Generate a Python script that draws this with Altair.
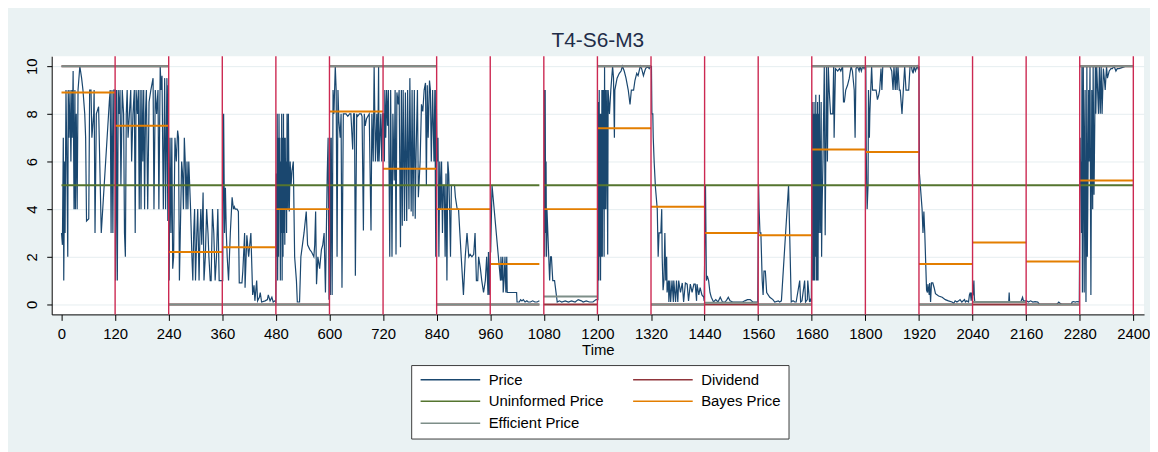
import altair as alt
import pandas as pd

FONT = "Liberation Sans"
TITLE = "T4-S6-M3"
SERIES = ["Price", "Dividend", "Uninformed Price", "Bayes Price", "Efficient Price"]
COLORS = ["#1a476f", "#90353b", "#55752f", "#e37e00", "#7d8e88"]

PERIOD_START = [0, 120, 240, 360, 480, 600, 720, 840, 960, 1080,
                1200, 1320, 1440, 1560, 1680, 1800, 1920, 2040, 2160, 2280]
PERIOD_END = [120, 240, 360, 480, 600, 720, 840, 960, 1070, 1200,
              1320, 1440, 1560, 1680, 1800, 1920, 2040, 2160, 2280, 2400]
DIVIDEND = [10, 10, 0, 0, 0, 10, 10, 0, 0, 0, 10, 0, 0, 0, 10, 10, 0, 0, 0, 10]
UNINFORMED = [5, 5, 5, 5, 5, 5, 5, 5, 5, 5, 5, 5, 5, 5, 5, 5, 5, 5, 5, 5]
BAYES = [8.9, 7.5, 2.2, 2.4, 4.0, 8.1, 5.7, 4.0, 1.7, 4.0,
         7.4, 4.1, 3.0, 2.9, 6.5, 6.4, 1.7, 2.6, 1.8, 5.2]
EFFICIENT = [10, 10, 0, 0, 0, 10, 10, 0, 0, 0.33, 10, 0, 0.07, 0, 10, 10, 0, 0.1, 0, 10]

XLINES = [120, 240, 360, 480, 600, 720, 840, 960, 1080, 1200, 1320, 1440,
          1560, 1680, 1800, 1920, 2040, 2160, 2280, 2400]
X_TICKS = [0, 120, 240, 360, 480, 600, 720, 840, 960, 1080, 1200, 1320, 1440,
           1560, 1680, 1800, 1920, 2040, 2160, 2280, 2400]
Y_TICKS = [0, 2, 4, 6, 8, 10]

# Price, period by period: (time, price)
P01 = [(0,3),(2,2.5),(4,7),(5,1),(7,6),(8,3),(10,9),(12,6),(14,2),(15,9),(17,7),(19,9),(21,6),(23,9),(24,7),
       (26,9.8),(28,4),(30,9),(31,4),(33,8),(35,4),(37,9),(41,10),(45,9.5),(48,9),(52,8),(54,7),(56,3.5),(61,3.6),
       (63,9),(66,9),(68,7),(72,8),(73,9),(75,3),(78,8),(83,8.3),(89,3),(107,8.5),(109,9),(111,3),(113,9),(115,3),
       (117,9),(119,9)]
P02 = [(120,9),(121,1),(123,9),(125,1),(127,9),(129,8),(131,9),(133,5),(136,9),(139,8),(141,3),(143,2),(145,8),
       (147,9),(149,7),(152,8),(155,9),(157,6),(160,8),(163,9),(165,3),(167,9),(170,8),(172,9),(174,4),(176,9),
       (178,4),(180,9),(182,6),(184,9),(186,4),(188,8),(190,9),(193,4),(196,8.5),(200,9),(205,9.5),(207,4),(210,9),
       (213,8),(216,9),(218,4),(221,10),(223,9),(225,9.6),(228,4),(231,9.5),(233,4),(236,9.5),(238,3.5),(239,9.2)]
P03 = [(241,1),(243,7),(245,3),(247,7),(249,1.5),(251,2),(254,7),(257,6),(260,7.3),(262,7),(264,1),(267,4),
       (269,6),(271,5.5),(273,4),(275,7),(277,6),(279,4),(281,6),(283,4),(285,6),(287,5),(289,4),(292,2),(294,1),
       (296,3),(298,4),(300,1),(303,3),(305,4),(308,1),(310,3),(312,4),(314,2.5),(317,4.7),(319,1),(322,2),(325,4),
       (328,3),(330,2),(333,1),(335,1),(338,4),(341,3),(344,1),(347,2),(350,4),(353,1),(356,1),(359,1)]
P04 = [(361,1),(362,5.5),(363,8),(365,3),(367,4.9),(369,3),(371,2),(374,1),(378,3),(382,4.5),(385,4),(387,4.1),
       (389,4),(393,4),(396,3.9),(398,0.9),(404,0.9),(406,1.4),(410,3),(411,0.7),(415,2.9),(419,2),(421,2.4),
       (424,3),(428,0.4),(431,0.8),(433,0.15),(437,1),(439,0.15),(443,0.3),(445,0.5),(448,0.1),(456,0.15),
       (461,0.2),(463,0.4),(467,0.15),(471,0.3),(474,0.1),(478,0.15),(480,0.1)]
P05 = [(481,5.5),(482,2),(483,8),(484,1),(485,7),(486,2),(487,8),(488,4),(489,7),(490,1),(491,6),(492,3),
       (493,8),(494,1),(495,7),(496,2),(497,8),(498,3),(499,7),(500,2.5),(501,7),(502,4),(503,6),(504,3),(505,8),
       (507,4),(508,8),(510,3.9),(512,6),(514,5),(516,5.6),(519,6),(522,2),(526,1),(528,0.1),(533,0.1),(536,2),
       (543,3),(548,3.9),(551,2.5),(556,2.3),(560,2.2),(565,2.0),(567,2.5),(569,3.9),(571,0.85),(574,2),(578,1.5),
       (582,2.3),(585,2.5),(588,3),(591,0.5),(595,5.5),(597,7),(599,0.2)]
P06 = [(601,7),(602,0.4),(604,7),(606,0.4),(608,9),(610,8),(613,10),(615,9),(617,2),(619,9),(621,7.7),(624,7),
       (626,8),(628,0.7),(631,8),(634,8),(637,8),(641,7.9),(645,8),(648,8),(652,6.5),(654,8),(656,8),(658,1.2),
       (661,8),(663,7.9),(667,8),(671,8),(673,7.9),(676,3.1),(678,8),(680,7.5),(683,7.8),(686,7.9),(689,8),
       (693,3.1),(695,8),(698,6),(700,10),(703,6),(706,8),(708,6),(710,10),(711,6),(715,8),(717,6),(719,8)]
P07 = [(721,8),(723,6),(724,9),(726,7),(728,9),(730,7.5),(732,9),(735,2),(737,9),(740,2),(742,8),(745,5.2),
       (747,9),(749,2.1),(751,8.9),(754,8.4),(756,9),(759,2.4),(761,9),(763,3.3),(765,9),(768,3.5),(770,8.9),
       (773,3.5),(775,9),(778,4),(780,9.5),(783,3.9),(785,9),(787,3.7),(790,9),(792,3.6),(794,6.4),(797,9),
       (799,4.5),(803,6),(806,8.4),(809,8.1),(812,9),(815,9.3),(817,5),(819,9.2),(821,7),(824,9.4),(826,9),
       (828,6),(831,9),(834,6),(836,9),(838,2),(839,9)]
P08 = [(841,6),(843,7),(845,2),(847,6),(849,4),(851,6),(853,3),(855,5),(857,5),(859,2),(861,5.5),(863,1),
       (865,6),(867,5.5),(869,4),(871,2),(873,5),(875,5),(877,5),(880,5),(882,4.5),(886,4),(889,4),(892,3),
       (895,2),(900,0.4),(904,2),(908,3),(912,2),(915,2.1),(919,2),(923,2.1),(926,3),(929,1),(932,1),(934,2),
       (938,1.5),(941,1),(945,0.5),(949,1),(952,2),(955,0.4),(956,2.2),(958,0.4),(960,2.2)]
P09 = [(961,2.2),(964,5),(983,1),(984,2),(986,1),(988,2),(989,0.5),(991,1),(993,2),(995,0.5),(997,2),(998,0.5),
       (1019,0.5),(1020,0.1),(1025,0.1),(1028,0.2),(1031,0.15),(1034,0.2),(1038,0.1),(1042,0.15),(1045,0.1),
       (1050,0.1),(1055,0.15),(1060,0.1),(1065,0.1),(1070,0.15)]
P10 = [(1081,9),(1082,2),(1083,9),(1084,3),(1085,6),(1086,2),(1087,4),(1089,3),(1091,2),(1093,1),(1095,2),
       (1097,2),(1100,1),(1104,1),(1110,0.1),(1115,0.15),(1120,0.1),(1128,0.15),(1135,0.1),(1142,0.15),(1150,0.1),
       (1157,0.2),(1164,0.15),(1168,0.1),(1175,0.15),(1182,0.1),(1190,0.1),(1197,0.2)]
P11 = [(1201,0.2),(1202,8.5),(1203,1),(1204,9),(1205,2),(1206,8),(1207,1),(1208,8),(1209,2),(1210,9),(1211,2),
       (1212,9),(1213,4),(1214,9),(1215,2),(1216,10),(1217,4),(1218,9),(1219,4),(1221,9),(1223,2.1),(1224,9),
       (1227,8),(1230,9),(1234,10),(1236,9.5),(1238,7),(1239,9),(1244,9.5),(1249,9.7),(1253,9.8),(1256,10),
       (1260,9.8),(1264,9.5),(1269,9),(1273,8.4),(1276,9),(1281,9),(1284,9.4),(1288,9.7),(1291,9.6),(1296,10),
       (1299,9.9),(1303,9.6),(1306,9.8),(1308,9.9),(1312,10),(1316,9.9),(1319,10)]
P12 = [(1321,10),(1322,8),(1324,8),(1325,7),(1327,6),(1330,4.9),(1334,4),(1336,2),(1338,3),(1342,3),(1344,4),
       (1345,2),(1347,0.6),(1349,1),(1351,3),(1353,1),(1355,2),(1356,0.5),(1359,1),(1360,0.1),(1362,1),(1364,0.1),
       (1367,1),(1370,0.1),(1371,1),(1375,0.1),(1377,1),(1380,0.1),(1382,1),(1386,0.5),(1390,0.9),(1393,0.1),
       (1397,0.9),(1401,0.85),(1404,0.15),(1408,0.85),(1412,0.5),(1416,0.85),(1419,0.85),(1422,0.15),(1423,0.85),
       (1427,0.4),(1430,0.7),(1434,0.4),(1438,0.3),(1439,0.15)]
P13 = [(1442,5),(1444,1),(1446,1.2),(1449,1),(1452,0.5),(1455,0.3),(1460,0.1),(1465,0.2),(1470,0.1),(1475,0.3),
       (1480,0.1),(1486,0.1),(1490,0.2),(1493,0.3),(1497,0.15),(1503,0.1),(1510,0.1),(1518,0.1),(1525,0.1),
       (1530,0.15),(1536,0.2),(1542,0.2),(1548,0.1),(1555,0.1),(1559,0.1)]
P14 = [(1561,5),(1562,4),(1564,3),(1566,3),(1569,1),(1571,0.4),(1573,1.4),(1576,1.4),(1579,0.5),(1586,0.3),
       (1593,0.2),(1597,0.1),(1605,0.15),(1608,0.1),(1612,0.15),(1628,5),(1634,0.1),(1638,0.15),(1642,0.1),
       (1645,0.1),(1653,1),(1655,0.1),(1658,0.15),(1664,1),(1666,0.1),(1670,0.2),(1671,1),(1675,0.1),(1677,0.2),
       (1679,0.1)]
P15 = [(1681,8.5),(1682,1),(1683,8),(1684,1),(1685,8.5),(1686,1),(1687,8),(1688,2),(1689,8.8),(1690,1),(1691,8),
       (1692,1),(1693,8.5),(1694,1),(1695,8),(1696,3),(1697,8.8),(1699,3),(1701,8.5),(1702,2),(1703,4),(1705,6),
       (1708,10),(1710,2.9),(1713,10),(1715,6),(1717,10),(1719,9),(1722,8),(1723,8),(1727,8),(1729,10),(1730,7),
       (1733,9.9),(1738,9.8),(1742,9.9),(1745,9.8),(1749,10),(1751,8.5),(1753,8.5),(1756,9),(1760,9.2),(1764,9.5),
       (1768,10),(1771,9.8),(1775,9),(1777,7),(1779,9.9),(1782,10),(1786,9.8),(1788,10),(1791,9.8),(1794,10),
       (1797,9.9),(1799,10)]
P16 = [(1801,10),(1802,6.4),(1803,5),(1804,4),(1806,5),(1807,9),(1809,7),(1810,8),(1812,9),(1814,10),(1816,9),
       (1818,9),(1821,9),(1824,9),(1827,8.6),(1830,8.8),(1832,9),(1835,9.9),(1837,9),(1839,10),(1843,10),
       (1847,10),(1851,10),(1855,10),(1859,9.8),(1862,9),(1864,10),(1867,9),(1869,10),(1871,9),(1873,10),
       (1876,9),(1878,9),(1882,8),(1885,9),(1888,10),(1891,9),(1894,9),(1897,9),(1900,10),(1903,10),(1905,9.8),
       (1907,9.7),(1909,10),(1912,9.8),(1916,10),(1918,9.9),(1920,10)]
P17 = [(1921,5.5),(1923,5),(1927,4),(1929,3),(1931,3.9),(1933,3),(1935,1.8),(1937,0.6),(1939,0.5),(1940,0.85),
       (1943,0.4),(1944,0.9),(1946,0.1),(1948,0.9),(1951,0.9),(1954,0.7),(1957,0.45),(1964,0.35),(1972,0.3),
       (1979,0.2),(1986,0.15),(1994,0.1),(1998,0.05),(2001,0.15),(2005,0.1),(2009,0.15),(2012,0.2),(2016,0.1),
       (2022,0.2),(2024,0.1),(2027,0.15),(2031,0.1),(2033,0.4),(2035,0.5),(2037,0.15),(2038,0.5),(2039,0.4)]
P18 = [(2041,0.4),(2043,1),(2044,0.3),(2045,0.1),(2050,0.1),(2058,0.1),(2065,0.1),(2072,0.1),(2080,0.1),
       (2090,0.1),(2100,0.1),(2110,0.1),(2118,0.1),(2121,0.1),(2122,0.5),(2123,0.1),(2130,0.1),(2140,0.1),
       (2148,0.1),(2152,0.3),(2154,0.15),(2159,0.15)]
P19 = [(2161,0.15),(2165,0.1),(2170,0.15),(2175,0.1),(2180,0.12),(2186,0.1),(2190,0),(2200,0),(2215,0),
       (2228,0),(2231,0.05),(2233,0.1),(2236,0.05),(2240,0),(2255,0),(2261,0),(2263,0.1),(2266,0.12),(2270,0.1),
       (2274,0.12),(2279,0.1)]
P20 = [(2281,7),(2282,5),(2283,6),(2284,3),(2285,10),(2286,0.5),(2288,10),(2290,0.5),(2291,7),(2292,9),(2293,3),
       (2294,0.1),(2296,10),(2297,2),(2298,4),(2300,9),(2301,6),(2303,10),(2305,0.4),(2307,9),(2309,4),(2310,10),
       (2312,4.6),(2315,10),(2316,8),(2318,10),(2320,9),(2322,8),(2324,10),(2326,8),(2328,10),(2330,8),(2333,9.9),
       (2335,9.5),(2337,9),(2340,10),(2342,9.5),(2346,9.8),(2350,9.9),(2353,9.9),(2357,10),(2361,9.8),(2364,9.9),
       (2368,9.9),(2376,9.95),(2383,10),(2390,10),(2398,10)]

PRICE_PERIODS = [P01, P02, P03, P04, P05, P06, P07, P08, P09, P10,
                 P11, P12, P13, P14, P15, P16, P17, P18, P19, P20]
# the recorded price series breaks once, between period 9 and period 10
PRICE_SEGMENT = [0, 0, 0, 0, 0, 0, 0, 0, 0, 1, 1, 1, 1, 1, 1, 1, 1, 1, 1, 1]

price_rows = []
for k, pts in enumerate(PRICE_PERIODS):
    for t, v in pts:
        price_rows.append({"series": "Price", "seg": PRICE_SEGMENT[k], "time": t, "value": v})
df_price = pd.DataFrame(price_rows)


def const_df(name, values):
    rows = []
    for k, v in enumerate(values):
        rows.append({"series": name, "grp": k, "time": PERIOD_START[k], "value": v})
        rows.append({"series": name, "grp": k, "time": PERIOD_END[k], "value": v})
    return pd.DataFrame(rows)


x_enc = alt.X(
    "time:Q",
    scale=alt.Scale(domain=[-22, 2424], nice=False, zero=False),
    axis=alt.Axis(values=X_TICKS, format="d", title="Time", grid=False, tickSize=6, labelPadding=6,
                  labelOverlap=False, labelFlush=False, titlePadding=1, titleFontSize=15,
                  titleFontWeight="normal", titleFont=FONT, titleColor="black"),
)
y_enc = alt.Y(
    "value:Q",
    scale=alt.Scale(domain=[-0.42, 10.42], nice=False, zero=False),
    axis=alt.Axis(values=Y_TICKS, format="d", title=None, grid=True, gridColor="#e6eef0", gridWidth=1,
                  tickSize=5, labelPadding=10, labelAngle=270, labelAlign="center",
                  labelBaseline="alphabetic"),
)
color_enc = alt.Color(
    "series:N",
    scale=alt.Scale(domain=SERIES, range=COLORS),
    legend=alt.Legend(title=None, orient="none", legendX=362, legendY=311, columns=2,
                      direction="horizontal",
                      symbolType="M-1,0H11", symbolSize=100, symbolStrokeWidth=1.5,
                      labelFontSize=15, labelFont=FONT, labelColor="black", labelOffset=56,
                      rowPadding=6, columnPadding=26, padding=7, fillColor="white",
                      strokeColor="#3c3c3c"),
)

layers = [
    alt.Chart(df_price).mark_line(strokeWidth=1.2).encode(
        x=x_enc, y=y_enc, color=color_enc, detail="seg:N")
]
for name, vals in [("Dividend", DIVIDEND), ("Uninformed Price", UNINFORMED),
                   ("Bayes Price", BAYES), ("Efficient Price", EFFICIENT)]:
    layers.append(
        alt.Chart(const_df(name, vals)).mark_line(strokeWidth=2).encode(
            x=x_enc, y=y_enc, color=color_enc, detail="grp:N")
    )
layers.append(
    alt.Chart(pd.DataFrame({"time": XLINES})).mark_rule(color="#cc2952", strokeWidth=1.4).encode(x=x_enc)
)

chart = alt.layer(*layers).properties(
    width=1100,
    height=260,
    title=alt.TitleParams(TITLE, fontSize=21, font=FONT, fontWeight="normal", color="#1f2d48",
                          anchor="middle", frame="group", offset=-12, baseline="alphabetic"),
    padding={"left": 44, "top": 47, "right": 6, "bottom": 137},
    autosize=alt.AutoSizeParams(type="none"),
    background="#eaf2f3",
).configure_view(fill="white", strokeWidth=0).configure_axis(
    labelFont=FONT, labelFontSize=15, labelColor="black", tickColor="black",
    domainColor="black", domainWidth=1, tickWidth=1,
)

chart.save("out.html", embed_options={"renderer": "svg", "actions": False})
